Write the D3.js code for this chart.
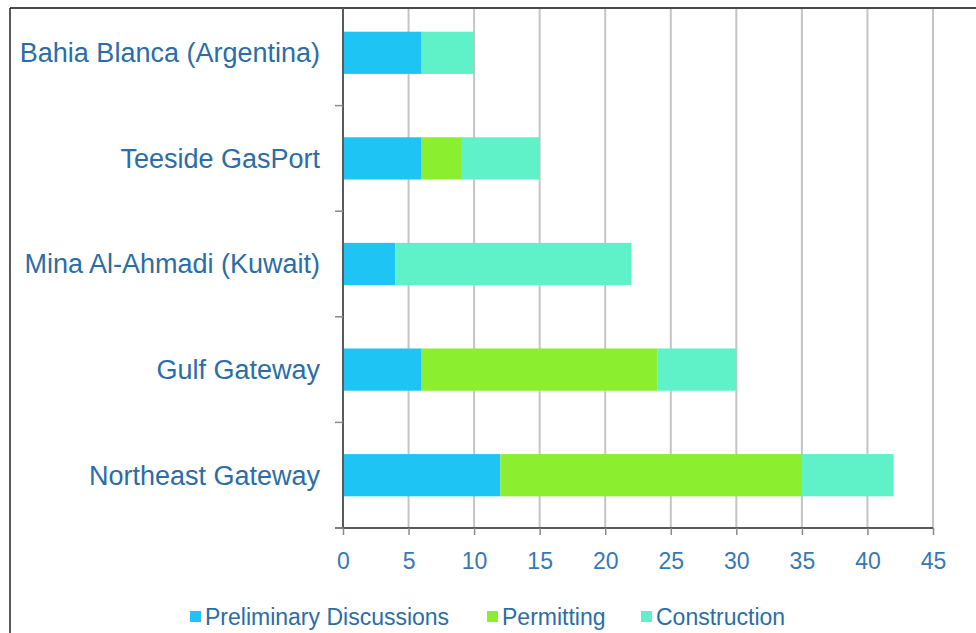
<!DOCTYPE html>
<html>
<head>
<meta charset="utf-8">
<script src="https://cdn.jsdelivr.net/npm/d3@7"></script>
<style>
  html, body { margin: 0; padding: 0; background: #fff; }
  svg { display: block; font-family: "Liberation Sans", Arial, sans-serif; }
</style>
</head>
<body>
<svg id="chart" width="976" height="633"></svg>
<script>
// Project timelines (months) per phase
const categories = [
  "Bahia Blanca (Argentina)",
  "Teeside GasPort",
  "Mina Al-Ahmadi (Kuwait)",
  "Gulf Gateway",
  "Northeast Gateway"
];
const preliminary = [6, 6, 4, 6, 12];
const permitting = [0, 3, 0, 18, 23];
const construction = [4, 6, 18, 6, 7];
const seriesNames = ["Preliminary Discussions", "Permitting", "Construction"];
const seriesColors = ["#1ec4f4", "#8bee2e", "#5ff2c8"];
const xTicks = [0, 5, 10, 15, 20, 25, 30, 35, 40, 45];

const rows = categories.map((c, i) => ({
  category: c,
  "Preliminary Discussions": preliminary[i],
  "Permitting": permitting[i],
  "Construction": construction[i]
}));

const svg = d3.select("#chart");
const plotLeft = 343, plotRight = 933, plotTop = 0, plotBottom = 528;

const x = d3.scaleLinear().domain([0, 45]).range([plotLeft, plotRight]);
const y = d3.scaleBand().domain(categories).range([plotTop, plotBottom]).paddingInner(0.6).paddingOuter(0.3);
const color = d3.scaleOrdinal().domain(seriesNames).range(seriesColors);

// Frame
svg.append("line").attr("x1", 10).attr("x2", 976).attr("y1", 8).attr("y2", 8)
  .attr("stroke", "#4a4a4a").attr("stroke-width", 2);
svg.append("line").attr("x1", 10).attr("x2", 10).attr("y1", 8).attr("y2", 633)
  .attr("stroke", "#222").attr("stroke-width", 1.5);

// Vertical gridlines
svg.append("g").selectAll("line")
  .data(xTicks.filter(d => d > 0))
  .join("line")
  .attr("x1", d => x(d)).attr("x2", d => x(d))
  .attr("y1", 9).attr("y2", plotBottom)
  .attr("stroke", "#c4c4c4").attr("stroke-width", 2);

// Stacked bars
const stacked = d3.stack().keys(seriesNames)(rows);
svg.append("g").selectAll("g")
  .data(stacked)
  .join("g")
  .attr("fill", d => color(d.key))
  .selectAll("rect")
  .data(d => d)
  .join("rect")
  .attr("x", d => x(d[0]))
  .attr("width", d => x(d[1]) - x(d[0]))
  .attr("y", d => y(d.data.category))
  .attr("height", y.bandwidth());

// X axis
const xAxis = svg.append("g")
  .attr("transform", `translate(0,${plotBottom})`)
  .call(d3.axisBottom(x).tickValues(xTicks).tickSize(7).tickPadding(18));
xAxis.select(".domain").attr("stroke", "#5a5a5a").attr("stroke-width", 2)
  .attr("d", `M${plotLeft - 8},0H${plotRight}`);
xAxis.selectAll(".tick line").attr("stroke", "#8a8a8a").attr("stroke-width", 1.5);
xAxis.selectAll(".tick text").attr("fill", "#3678b2").attr("font-size", 23);

// Y axis line and category boundary ticks
const yAxisG = svg.append("g");
yAxisG.append("line").attr("x1", plotLeft).attr("x2", plotLeft).attr("y1", 8).attr("y2", plotBottom)
  .attr("stroke", "#5a5a5a").attr("stroke-width", 2);
const bandEdge = i => plotTop + (i + 1) * (plotBottom - plotTop) / categories.length;
yAxisG.selectAll("line.bt")
  .data(categories)
  .join("line").attr("class", "bt")
  .attr("x1", plotLeft - 8).attr("x2", plotLeft)
  .attr("y1", (d, i) => bandEdge(i))
  .attr("y2", (d, i) => bandEdge(i))
  .attr("stroke", "#8a8a8a").attr("stroke-width", 1.5);

// Category labels
svg.append("g").selectAll("text")
  .data(categories)
  .join("text")
  .attr("x", 320)
  .attr("y", d => y(d) + y.bandwidth() / 2)
  .attr("dy", "0.35em")
  .attr("text-anchor", "end")
  .attr("fill", "#2b6da6")
  .attr("font-size", 27)
  .text(d => d);

// Legend
const legendX = [190, 487, 641];
const legend = svg.append("g").selectAll("g")
  .data(seriesNames)
  .join("g")
  .attr("transform", (d, i) => `translate(${legendX[i]},611)`);
legend.append("rect").attr("width", 11).attr("height", 11).attr("fill", d => color(d));
legend.append("text").attr("x", 15).attr("y", 6).attr("dy", "0.35em")
  .attr("fill", "#2b6da6").attr("font-size", 23).text(d => d);
</script>
</body>
</html>
